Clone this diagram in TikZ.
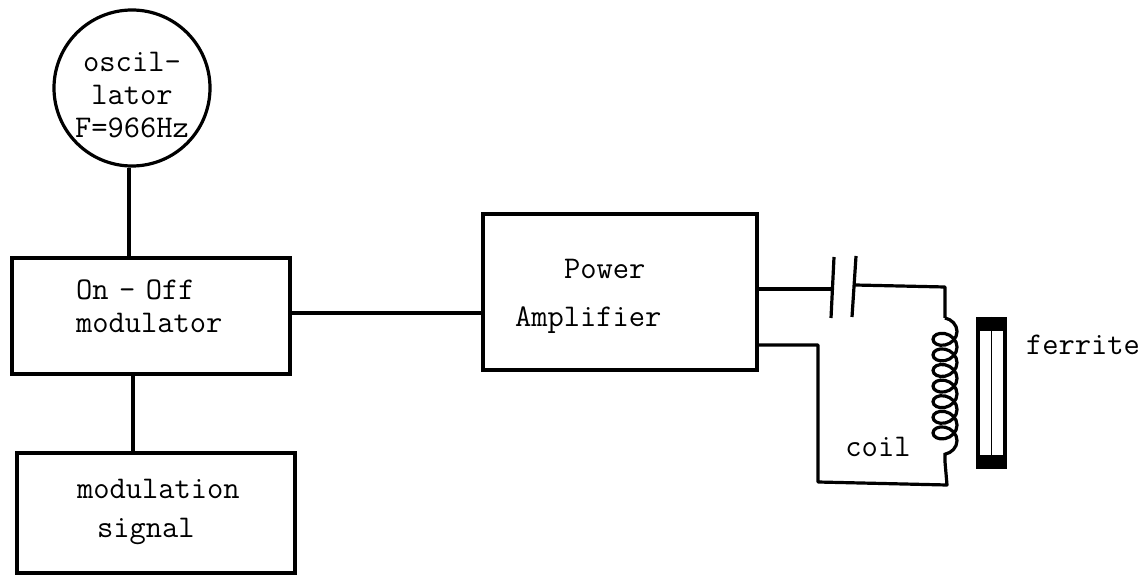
\documentclass[tikz,border=0pt]{standalone}
\usepackage{xcolor}
\usepackage{tikz}
\usetikzlibrary{decorations.pathmorphing}

\tikzset{
  wire/.style={line width=1.6pt, line join=round},
  blockbox/.style={draw, line width=1.6pt, rectangle, inner sep=0pt, align=left},
  typed/.style={font=\ttfamily\fontsize{15.8}{16.5}\selectfont}
}

\begin{document}
\begin{tikzpicture}[x=0.5pt, y=-0.5pt, typed]
      \useasboundingbox (0,0) rectangle (1143,576);

      \node[circle, draw, line width=1.6pt, minimum size=78pt, inner sep=0pt, align=center] (osc) at (132,88) {\rule{0pt}{17pt}oscil-\\lator\\F=966Hz};
      \node[blockbox, minimum width=139pt, minimum height=58pt, text width=139pt] (onoff) at (151,316) {\hspace*{32pt}On - Off\\\hspace*{32pt}modulator\rule[-10pt]{0pt}{0pt}};
      \node[blockbox, minimum width=139pt, minimum height=60pt, text width=139pt] (signal) at (156,513) {\hspace*{30pt}modulation\\[3pt]\hspace*{40pt}signal\rule[-5pt]{0pt}{0pt}};
      \node[blockbox, minimum width=137pt, minimum height=78pt, text width=137pt] (amp) at (620,292) {\rule{0pt}{14pt}\hspace*{40.5pt}Power\\[7.5pt]\hspace*{16pt}Amplifier};
      \node[draw, line width=2pt, minimum width=13.5pt, minimum height=74pt, inner sep=0pt] (ferrite) at (991.5,393) {};
      \node (coillabel) at (878,447) {coil};
      \node (ferritelabel) at (1083,345) {ferrite};

      \coordinate (platea) at (832,289);
      \coordinate (plateb) at (855,285);
      \coordinate (coiltop) at (945,318);
      \coordinate (coilbot) at (945,462);
      \coordinate (ampout) at (757,345);
      \coordinate (bend) at (818,345);

      \draw[wire] ([xshift=-1.5pt]osc.south) -- ([xshift=-1.5pt]osc.south |- onoff.north);
      \draw[wire] ([xshift=-11.5pt]signal.north) -- ([xshift=-11.5pt]signal.north |- onoff.south);
      \draw[wire] ([yshift=1.5pt]onoff.east) -- ([yshift=1.5pt]onoff.east -| amp.west);
      \draw[wire] (ampout |- platea) -- (platea);
      \draw[wire] (834,257) -- (831,318);
      \draw[wire] (856,256) -- (852,317);
      \draw[wire] (plateb) -- (945,287) -- (coiltop);
      \draw[wire] (coilbot) -- (947,485) -- (818,482) -- (bend) -- (ampout);

      % coil and ferrite caps
      \draw[line width=1.6pt, decorate, decoration={coil, aspect=0.8, segment length=7.8pt, amplitude=6pt}] (coiltop) -- (coilbot);
      \fill (ferrite.north west) rectangle ([yshift=-7pt]ferrite.north east);
      \fill ([yshift=7pt]ferrite.south west) rectangle (ferrite.south east);
      \draw[line width=0.8pt] (ferrite.north) -- (ferrite.south);
    \end{tikzpicture}
\end{document}
